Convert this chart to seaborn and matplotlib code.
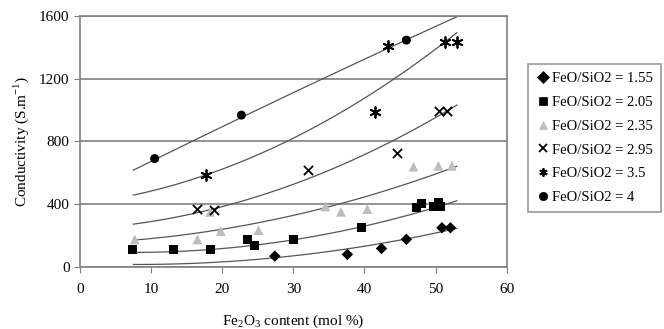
import numpy as np
import pandas as pd
import matplotlib
matplotlib.use("Agg")
import matplotlib.pyplot as plt
import seaborn as sns

# FeO/SiO2 ratios
ratios = ["1.55", "2.05", "2.35", "2.95", "3.5", "4"]

# Fe2O3 content (mol %) and conductivity (S/m) per series
x_155 = [27.4, 37.6, 42.4, 45.9, 50.9, 52.1]
y_155 = [68, 79, 117, 175, 249, 249]

x_205 = [7.45, 13.1, 18.3, 23.6, 24.5, 30.0, 39.6, 47.35, 48.0, 49.7, 50.4, 50.7]
y_205 = [113, 113, 113, 175, 134, 175, 249, 376, 404, 387, 408, 387]

x_235 = [7.7, 16.5, 18.3, 19.8, 25.1, 34.5, 36.7, 40.4, 46.9, 50.4, 52.3]
y_235 = [175, 175, 350, 228, 234, 385, 351, 368, 638, 644, 644]

x_295 = [16.5, 18.9, 32.0, 44.6, 50.5, 51.6]
y_295 = [366, 360, 616, 723, 994, 994]

x_35 = [17.7, 41.5, 43.3, 51.4, 53.0]
y_35 = [585, 984, 1409, 1430, 1434]

x_4 = [10.5, 22.7, 45.9]
y_4 = [690, 967, 1445]

# trend lines (2nd order) at these x values
trend_x = [7.5, 30, 53]
trend_155 = [15, 70, 245]
trend_205 = [92, 172, 421]
trend_235 = [170, 328, 641]
trend_295 = [272, 526, 1031]
trend_35 = [457, 820, 1492]
trend_4 = [616, 1110, 1594]

xs = [x_155, x_205, x_235, x_295, x_35, x_4]
ys = [y_155, y_205, y_235, y_295, y_35, y_4]
trends = [trend_155, trend_205, trend_235, trend_295, trend_35, trend_4]

markers = ["D", "s", "^", "x", (6, 2, 0), "o"]
colors = ["black", "black", "#bdbdbd", "black", "black", "black"]
sizes = [34, 42, 50, 44, 60, 42]

plt.rcParams["font.family"] = ["Liberation Serif"]
plt.rcParams["mathtext.fontset"] = "custom"
plt.rcParams["mathtext.rm"] = "Liberation Serif"

fig, ax = plt.subplots(figsize=(6.64, 3.29), dpi=100)
fig.subplots_adjust(left=0.1205, right=0.763, top=0.952, bottom=0.189)

handles = []
for r, x, y, t, m, c, s in zip(ratios, xs, ys, trends, markers, colors, sizes):
    df = pd.DataFrame({"x": x, "y": y})
    coef = np.polyfit(trend_x, t, 2)
    xt = np.linspace(trend_x[0], trend_x[-1], 100)
    sns.lineplot(x=xt, y=np.polyval(coef, xt), color="#555555", lw=0.9, ax=ax, zorder=2)
    lw = 1.3 if m in ("x", (6, 2, 0)) else 0
    sns.scatterplot(data=df, x="x", y="y", marker=m, color=c, s=s, ax=ax,
                    linewidth=lw, edgecolor=c if lw else "none", zorder=3)
    handles.append(plt.Line2D([], [], marker=m, color=c, ls="none",
                              markersize=6, markeredgewidth=lw if lw else 0.5,
                              label=f"FeO/SiO2 = {r}"))

ax.set_xlim(0, 60)
ax.set_ylim(0, 1600)
ax.set_xticks(range(0, 61, 10))
ax.set_yticks(range(0, 1601, 400))
ax.grid(axis="y", color="#808080", lw=1.2)
ax.set_axisbelow(True)
for sp in ax.spines.values():
    sp.set_color("#808080")
    sp.set_linewidth(1.2)
ax.tick_params(colors="#808080", labelcolor="black", labelsize=11, length=4)
ax.tick_params(axis="x", pad=8)
ax.set_xlabel(r"Fe$_\mathregular{2}$O$_\mathregular{3}$ content (mol %)", fontsize=11, labelpad=12)
ax.set_ylabel(r"Conductivity (S.m$^\mathregular{-1}$)", fontsize=11, labelpad=6)

leg = fig.legend(handles=handles, loc="upper left", bbox_to_anchor=(0.795, 0.805),
                 frameon=True, fancybox=False, edgecolor="#808080", fontsize=10.5,
                 handletextpad=0.1, labelspacing=0.72, borderpad=0.55,
                 handlelength=1.0, borderaxespad=0)
leg.get_frame().set_linewidth(1.2)

fig.savefig("out.png", dpi=100)
